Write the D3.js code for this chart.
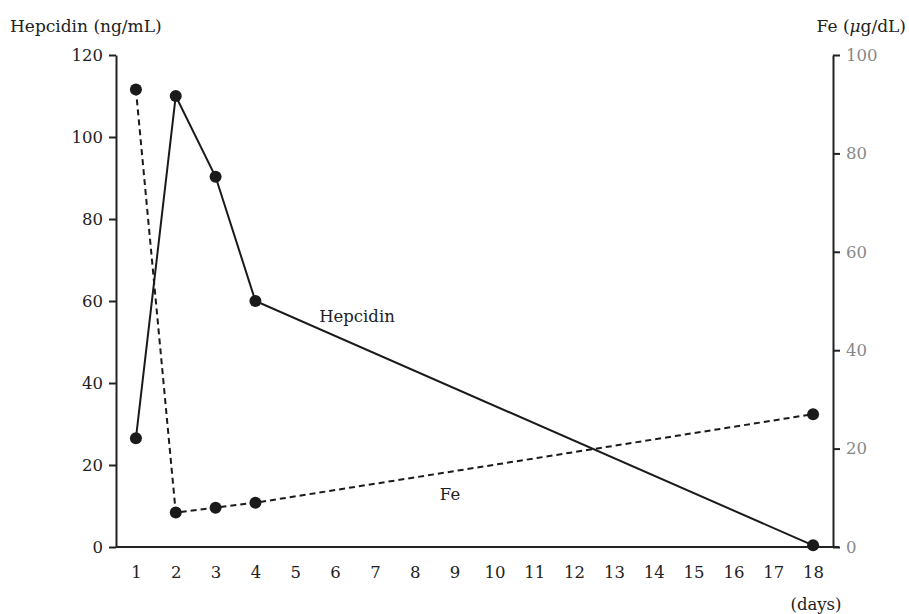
<!DOCTYPE html>
<html><head><meta charset="utf-8">
<script src="https://cdn.jsdelivr.net/npm/d3@7/dist/d3.min.js"></script>
<style>
body{margin:0;background:#fff;}
svg text{font-family:"DejaVu Serif","Liberation Serif",serif;}
</style></head>
<body><svg id="c" width="909" height="614"></svg>
<script>
const days = [1, 2, 3, 4, 18];
const hepcidin = [26.5, 110, 90.3, 60, 0.4];
const fe = [93, 7, 8, 9, 27];
const xTicks = d3.range(1, 19);
const leftTicks = [0, 20, 40, 60, 80, 100, 120];
const rightTicks = [0, 20, 40, 60, 80, 100];

const svg = d3.select("#c");
const x = d3.scaleLinear().domain([0.5, 18.5]).range([116, 833]);
const yL = d3.scaleLinear().domain([0, 120]).range([547, 55]);
const yR = d3.scaleLinear().domain([0, 100]).range([547, 55]);
const fs = 16.5;
const fsT = 17;

// x axis
const gx = svg.append("g").attr("transform", "translate(0,547)")
  .call(d3.axisBottom(x).tickValues(xTicks).tickSize(0).tickPadding(19).tickFormat(d3.format("d")));
gx.select(".domain").attr("d", "M116,0H839").attr("stroke", "#222").attr("stroke-width", 2);
gx.selectAll("text").attr("font-size", fs).attr("fill", "#222").attr("font-family", "DejaVu Serif");

// left axis
const gl = svg.append("g").attr("transform", "translate(116,0)")
  .call(d3.axisLeft(yL).tickValues(leftTicks).tickSize(7).tickSizeOuter(0).tickPadding(6));
gl.select(".domain").attr("stroke", "#222").attr("stroke-width", 2);
gl.selectAll(".tick line").attr("stroke", "#222").attr("stroke-width", 2);
gl.selectAll("text").attr("font-size", fs).attr("fill", "#222").attr("font-family", "DejaVu Serif");

// right axis
const gr = svg.append("g").attr("transform", "translate(833,0)")
  .call(d3.axisRight(yR).tickValues(rightTicks).tickSize(7).tickSizeOuter(0).tickPadding(6));
gr.select(".domain").attr("stroke", "#222").attr("stroke-width", 2);
gr.selectAll(".tick line").attr("stroke", "#222").attr("stroke-width", 2);
gr.selectAll("text").attr("font-size", fs).attr("fill", "#888").attr("font-family", "DejaVu Serif");

// lines
const lineH = d3.line().x((d, i) => x(days[i])).y(d => yL(d));
const lineF = d3.line().x((d, i) => x(days[i])).y(d => yR(d));
svg.append("path").datum(hepcidin).attr("d", lineH).attr("fill", "none")
  .attr("stroke", "#1a1a1a").attr("stroke-width", 2);
svg.append("path").datum(fe).attr("d", lineF).attr("fill", "none")
  .attr("stroke", "#1a1a1a").attr("stroke-width", 2).attr("stroke-dasharray", "6,4");

svg.append("g").selectAll("circle").data(hepcidin).join("circle")
  .attr("cx", (d, i) => x(days[i])).attr("cy", d => yL(d)).attr("r", 6).attr("fill", "#1a1a1a");
svg.append("g").selectAll("circle").data(fe).join("circle")
  .attr("cx", (d, i) => x(days[i])).attr("cy", d => yR(d)).attr("r", 6).attr("fill", "#1a1a1a");

// labels
svg.append("text").attr("x", 10).attr("y", 32).attr("font-size", fsT).attr("fill", "#222").text("Hepcidin (ng/mL)");
const fet = svg.append("text").attr("x", 906).attr("y", 32).attr("text-anchor", "end").attr("font-size", fsT).attr("fill", "#222");
fet.append("tspan").text("Fe (");
fet.append("tspan").attr("font-style", "italic").text("μ");
fet.append("tspan").text("g/dL)");
svg.append("text").attr("x", 357).attr("y", 322).attr("text-anchor", "middle").attr("font-size", fs).attr("fill", "#222").text("Hepcidin");
svg.append("text").attr("x", 450).attr("y", 500).attr("text-anchor", "middle").attr("font-size", fs).attr("fill", "#222").text("Fe");
svg.append("text").attr("x", 816).attr("y", 610).attr("text-anchor", "middle").attr("font-size", fs).attr("fill", "#222").text("(days)");
</script></body></html>
